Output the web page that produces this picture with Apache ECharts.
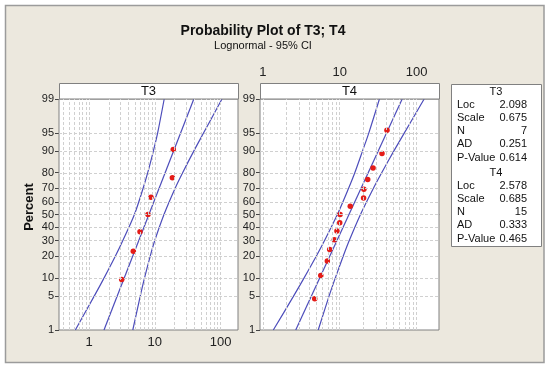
<!DOCTYPE html>
<html><head><meta charset="utf-8">
<script src="https://cdn.jsdelivr.net/npm/echarts@6/dist/echarts.min.js"></script>
<style>html,body{margin:0;padding:0;background:#fff}#c{width:550px;height:368px}</style>
</head><body><div id="c"></div><script>
// ---------- data ----------
const panelNames = ['T3', 'T4'];
const yTickPct = [1, 5, 10, 20, 30, 40, 50, 60, 70, 80, 90, 95, 99];
const xTickLabels = [1, 10, 100];
const xRangeT3 = [0.35, 184];
const xRangeT4 = [0.92, 195];

// plotted observations (percent, value)
const pctT3 = [9.5, 23.0, 36.5, 50.0, 63.5, 77.0, 90.5];
const valT3 = [3.14, 4.71, 5.96, 7.88, 8.75, 18.5, 19.1];
const pctT4 = [4.5, 11.0, 17.5, 24.0, 30.5, 37.0, 43.5, 50.0, 56.5, 63.0, 69.5, 76.0, 82.5, 89.0, 95.5];
const valT4 = [4.73, 5.67, 6.9, 7.4, 8.5, 9.2, 10.0, 10.1, 13.7, 20.4, 20.6, 23.1, 27.1, 35.4, 41.1];

// fitted line (percent, value)
const fitPct = [1, 99];
const fitT3 = [1.69, 39.2];
const fitT4 = [2.68, 64.8];

// 95% confidence bands (percent, value)
const ciPct = [1, 5, 10, 20, 30, 50, 70, 80, 90, 95, 99];
const ciLowT3 = [0.62, 1.20, 1.69, 2.51, 3.27, 4.9, 6.63, 7.81, 9.53, 11.06, 13.9];
const ciHighT3 = [4.63, 6.01, 6.97, 8.51, 10.0, 13.8, 20.3, 26.5, 39.3, 55.3, 105];
const ciLowT4 = [1.37, 2.51, 3.43, 4.95, 6.35, 9.31, 13.0, 15.7, 19.8, 23.9, 32.8];
const ciHighT4 = [5.25, 7.26, 8.74, 11.08, 13.3, 18.6, 27.3, 35.1, 50.6, 69.2, 125];

// statistics table
const statLabels = ['Loc', 'Scale', 'N', 'AD', 'P-Value'];
const statsT3 = ['2.098', '0.675', '7', '0.251', '0.614'];
const statsT4 = ['2.578', '0.685', '15', '0.333', '0.465'];

// ---------- probability scale transform ----------
function probit(p) {
  const a = [-3.969683028665376e+01, 2.209460984245205e+02, -2.759285104469687e+02, 1.383577518672690e+02, -3.066479806614716e+01, 2.506628277459239e+00];
  const b = [-5.447609879822406e+01, 1.615858368580409e+02, -1.556989798598866e+02, 6.680131188771972e+01, -1.328068155288572e+01];
  const c = [-7.784894002430293e-03, -3.223964580411365e-01, -2.400758277161838e+00, -2.549732943228755e+00, 4.374664141464968e+00, 2.938163982698783e+00];
  const d = [7.784695709041462e-03, 3.224671290700398e-01, 2.445134137142996e+00, 3.754408661907416e+00];
  const pl = 0.02425, ph = 1 - pl;
  let q, r;
  if (p < pl) {
    q = Math.sqrt(-2 * Math.log(p));
    return (((((c[0]*q+c[1])*q+c[2])*q+c[3])*q+c[4])*q+c[5]) / ((((d[0]*q+d[1])*q+d[2])*q+d[3])*q+1);
  }
  if (p <= ph) {
    q = p - 0.5; r = q * q;
    return (((((a[0]*r+a[1])*r+a[2])*r+a[3])*r+a[4])*r+a[5])*q / (((((b[0]*r+b[1])*r+b[2])*r+b[3])*r+b[4])*r+1);
  }
  q = Math.sqrt(-2 * Math.log(1 - p));
  return -(((((c[0]*q+c[1])*q+c[2])*q+c[3])*q+c[4])*q+c[5]) / ((((d[0]*q+d[1])*q+d[2])*q+d[3])*q+1);
}
const zOf = p => probit(p / 100);
const zMin = zOf(1), zMax = zOf(99);
const yTickZ = yTickPct.map(zOf);
const pctLabel = v => {
  for (let i = 0; i < yTickPct.length; i++) if (Math.abs(yTickZ[i] - v) < 1e-6) return String(yTickPct[i]);
  return '';
};
function gridValues(range) {
  const out = [];
  for (let e = -1; e <= 2; e++) for (let m = 1; m <= 9; m++) {
    const v = +(m * Math.pow(10, e)).toPrecision(3);
    if (v > range[0] && v < range[1]) out.push(v);
  }
  return out;
}
const pairs = (vals, pcts) => vals.map((v, i) => [v, zOf(pcts[i])]);

// ---------- styling ----------
const FONT = 'Liberation Sans';
const LINE = '#4d4dbb';
const DOT = '#e41c18';
const GRIDC = '#d0d0d0';
const BG = '#ece8de';

const grids = [
  { left: 59, top: 99, width: 179, height: 231 },
  { left: 260, top: 99, width: 179, height: 231 }
];
const ranges = [xRangeT3, xRangeT4];
const data = [
  { pts: pairs(valT3, pctT3), fit: pairs(fitT3, fitPct), lo: pairs(ciLowT3, ciPct), hi: pairs(ciHighT3, ciPct) },
  { pts: pairs(valT4, pctT4), fit: pairs(fitT4, fitPct), lo: pairs(ciLowT4, ciPct), hi: pairs(ciHighT4, ciPct) }
];

const option = {
  animation: false,
  backgroundColor: '#ffffff',
  grid: grids.map(g => Object.assign({ show: true, backgroundColor: '#fff', borderColor: '#808080', borderWidth: 1, z: 1 }, g)),
  xAxis: [0, 1].map(i => ({
    type: 'log', logBase: 10, gridIndex: i, min: ranges[i][0], max: ranges[i][1],
    position: i === 0 ? 'bottom' : 'top', offset: i === 0 ? 0 : 16,
    axisLine: { show: i === 1, lineStyle: { color: '#808080' } },
    axisTick: { show: true, customValues: xTickLabels, length: 4, lineStyle: { color: '#444' } },
    axisLabel: { customValues: xTickLabels, fontSize: 13, fontFamily: FONT, color: '#222', margin: i === 0 ? 6 : 4, formatter: v => String(v) },
    splitLine: { show: false }, minorTick: { show: false }, minorSplitLine: { show: false }
  })),
  yAxis: [0, 1].map(i => ({
    type: 'value', gridIndex: i, min: zMin, max: zMax,
    axisLine: { show: false },
    axisTick: { show: true, customValues: yTickZ, length: 4, lineStyle: { color: '#444' } },
    axisLabel: { customValues: yTickZ, fontSize: 11, fontFamily: FONT, color: '#222', margin: 5, formatter: pctLabel },
    splitLine: { show: false }
  })),
  series: [],
  graphic: []
};

[0, 1].forEach(i => {
  const d = data[i];
  option.series.push({
    type: 'scatter', xAxisIndex: i, yAxisIndex: i, data: [], z: 1, silent: true,
    markLine: {
      silent: true, symbol: ['none', 'none'], label: { show: false }, animation: false,
      lineStyle: { color: GRIDC, type: [3, 2], width: 1 },
      emphasis: { disabled: true },
      data: gridValues(ranges[i]).map(v => ({ xAxis: v })).concat(yTickZ.slice(1, -1).map(z => ({ yAxis: z })))
    }
  });
  ['lo', 'hi', 'fit'].forEach(k => option.series.push({
    type: 'line', xAxisIndex: i, yAxisIndex: i, data: d[k], smooth: k === 'fit' ? false : 0.3,
    showSymbol: false, symbol: 'none', lineStyle: { color: LINE, width: 1.2 }, z: 3, silent: true
  }));
  option.series.push({
    type: 'scatter', xAxisIndex: i, yAxisIndex: i, data: d.pts, symbol: 'circle', symbolSize: 5.5,
    itemStyle: { color: DOT, opacity: 1, borderWidth: 0 }, z: 4, silent: true
  });
});

// frame, titles, panel headers, statistics box
const G = option.graphic;
G.push({ type: 'rect', z: -10, shape: { x: 5.5, y: 5.5, width: 538.5, height: 357 }, style: { fill: BG, stroke: '#9b9b9b', lineWidth: 1.5 } });
G.push({ type: 'text', x: 263, y: 31, style: { text: 'Probability Plot of T3; T4', font: 'bold 14px ' + FONT, fill: '#111', textAlign: 'center', textVerticalAlign: 'middle' } });
G.push({ type: 'text', x: 263, y: 46, style: { text: 'Lognormal - 95% CI', font: '11px ' + FONT, fill: '#111', textAlign: 'center', textVerticalAlign: 'middle' } });
G.push({ type: 'text', x: 29, y: 207, rotation: Math.PI / 2, style: { text: 'Percent', font: 'bold 13px ' + FONT, fill: '#111', textAlign: 'center', textVerticalAlign: 'middle' } });
grids.forEach((g, i) => {
  G.push({ type: 'rect', z: 5, shape: { x: g.left + 0.5, y: 83.5, width: g.width, height: 15.5 }, style: { fill: '#fff', stroke: '#808080', lineWidth: 1 } });
  G.push({ type: 'text', z: 6, x: g.left + g.width / 2, y: 91.5, style: { text: panelNames[i], font: '13px ' + FONT, fill: '#111', textAlign: 'center', textVerticalAlign: 'middle' } });
});
G.push({ type: 'rect', z: 5, shape: { x: 451.5, y: 84.5, width: 90, height: 162 }, style: { fill: '#fff', stroke: '#808080', lineWidth: 1 } });
[[statsT3, 91.5], [statsT4, 172.5]].forEach(([vals, y0], k) => {
  G.push({ type: 'text', z: 6, x: 496, y: y0, style: { text: panelNames[k], font: '11px ' + FONT, fill: '#111', textAlign: 'center', textVerticalAlign: 'middle' } });
  statLabels.forEach((lab, j) => {
    const y = y0 + 13.2 * (j + 1);
    G.push({ type: 'text', z: 6, x: 457, y: y, style: { text: lab, font: '11px ' + FONT, fill: '#111', textAlign: 'left', textVerticalAlign: 'middle' } });
    G.push({ type: 'text', z: 6, x: 527, y: y, style: { text: vals[j], font: '11px ' + FONT, fill: '#111', textAlign: 'right', textVerticalAlign: 'middle' } });
  });
});

const chart = echarts.init(document.getElementById('c'), null, { renderer: 'canvas' });
chart.setOption(option);
</script></body></html>
